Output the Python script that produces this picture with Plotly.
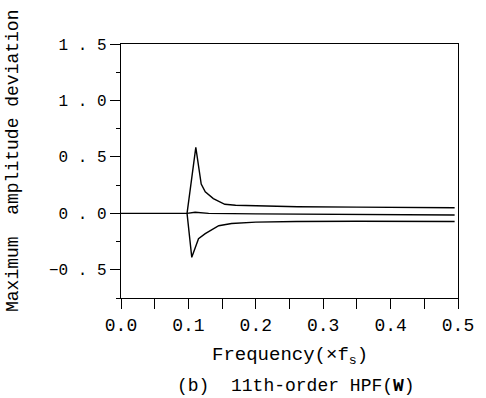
import plotly.graph_objects as go

# Data
freq_upper = [0.098, 0.111, 0.119, 0.125, 0.137, 0.154, 0.17, 0.2, 0.262, 0.35, 0.42, 0.495]
dev_upper = [0.0, 0.585, 0.26, 0.19, 0.13, 0.08, 0.072, 0.066, 0.058, 0.055, 0.053, 0.05]

freq_mid = [0.0, 0.098, 0.11, 0.13, 0.2, 0.3, 0.4, 0.495]
dev_mid = [0.0, 0.0, 0.01, 0.0, -0.005, -0.01, -0.012, -0.015]

freq_lower = [0.098, 0.105, 0.115, 0.125, 0.145, 0.164, 0.2, 0.26, 0.35, 0.42, 0.495]
dev_lower = [0.0, -0.39, -0.225, -0.18, -0.11, -0.09, -0.078, -0.072, -0.07, -0.07, -0.072]

x_ticks = [0.0, 0.1, 0.2, 0.3, 0.4, 0.5]
x_ticktext = ["0.0", "0.1", "0.2", "0.3", "0.4", "0.5"]
y_ticks = [-0.5, 0.0, 0.5, 1.0, 1.5]
y_ticktext = ["\u22120 . 5", "0 . 0", "0 . 5", "1 . 0", "1 . 5"]

FONT = "Liberation Mono"

fig = go.Figure()
for xs, ys in [(freq_mid, dev_mid), (freq_upper, dev_upper), (freq_lower, dev_lower)]:
    fig.add_trace(go.Scatter(x=xs, y=ys, mode="lines",
                             line=dict(color="black", width=1.4),
                             showlegend=False, hoverinfo="skip"))

fig.update_layout(
    width=486, height=398,
    margin=dict(l=121, r=23, t=44, b=100),
    paper_bgcolor="white", plot_bgcolor="white",
    font=dict(family=FONT, color="black"),
)
fig.update_xaxes(
    range=[0, 0.5], tickvals=x_ticks, ticktext=x_ticktext,
    showgrid=False, zeroline=False,
    showline=True, linecolor="black", linewidth=1.4, mirror=True,
    ticks="outside", ticklen=10, tickwidth=1.2, tickcolor="black",
    tickfont=dict(family=FONT, size=18, color="black"),
    minor=dict(dtick=0.05, ticks="outside", ticklen=10, tickwidth=1.2, tickcolor="black", showgrid=False),
)
fig.update_yaxes(
    range=[-0.75, 1.5], tickvals=y_ticks, ticktext=y_ticktext,
    showgrid=False, zeroline=False,
    showline=True, linecolor="black", linewidth=1.4, mirror=True,
    ticks="outside", ticklen=10, tickwidth=1.2, tickcolor="black",
    tickfont=dict(family=FONT, size=16, color="black"),
    minor=dict(dtick=0.25, ticks="outside", ticklen=4, tickwidth=1, tickcolor="black", showgrid=False),
)

fig.add_annotation(text="Frequency(\u00d7f<sub>s</sub>)", xref="paper", yref="paper",
                   x=0.5, y=-0.228, yanchor="middle", showarrow=False,
                   font=dict(family=FONT, size=19, color="black"))
fig.add_annotation(text="(b)  11th-order HPF(<b>W</b>)", xref="paper", yref="paper",
                   x=0.52, y=-0.345, yanchor="middle", showarrow=False,
                   font=dict(family=FONT, size=18, color="black"))
fig.add_annotation(text="Maximum  amplitude deviation", xref="paper", yref="paper",
                   x=-0.32, y=0.54, xanchor="center", yanchor="middle", textangle=-90,
                   showarrow=False, font=dict(family=FONT, size=18, color="black"))

fig.write_html("out.html")
